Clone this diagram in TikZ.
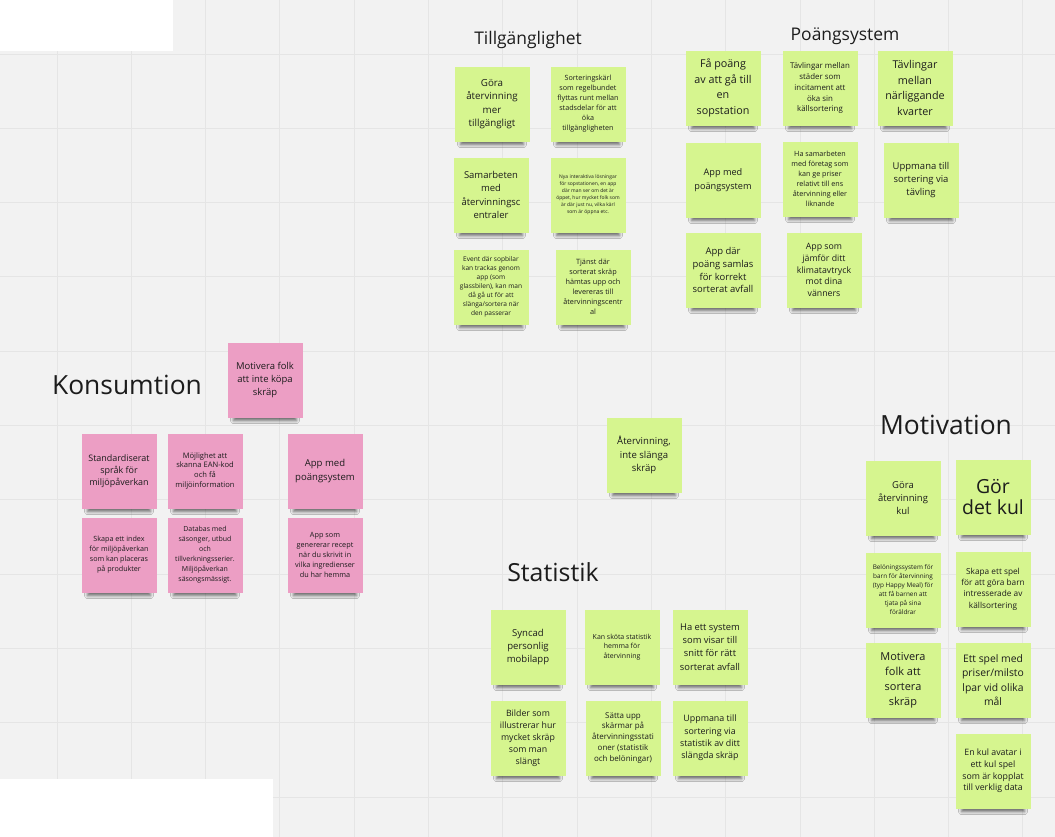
\documentclass[tikz,border=0pt]{standalone}
\usepackage{fontspec}
\setmainfont{Open Sans}
\usetikzlibrary{shadows.blur}
\definecolor{board}{RGB}{242,242,242}
\definecolor{gridline}{RGB}{229,229,229}
\definecolor{sgreen}{RGB}{214,245,143}
\definecolor{spink}{RGB}{236,158,196}
\definecolor{ink}{RGB}{28,28,28}
\newcommand{\nf}[2]{\fontsize{#1}{#2}\selectfont}

\begin{document}
\begin{tikzpicture}[
    x=1bp, y=-1bp,
    note/.style={minimum width=75bp, minimum height=75bp, inner sep=0pt, align=center, text=ink,
                 blur shadow={shadow xshift=0bp, shadow yshift=-11bp, shadow blur radius=3.5bp,
                              shadow opacity=55, shadow scale=0.84}},
    gnote/.style={note, fill=sgreen},
    pnote/.style={note, fill=spink},
    heading/.style={inner sep=0pt, text=ink},
  ]

  %% Board with grid
  \fill[board] (0,0) rectangle (1055,837);
  \useasboundingbox (0,0) rectangle (1055,837);
  \foreach \gx in {0,...,13}
    \draw[gridline, line width=1bp] ({57+74.3*\gx},0) -- ++(0,837);
  \foreach \gy in {0,...,10}
    \draw[gridline, line width=1bp] (0,{54+74.3*\gy}) -- ++(1055,0);
  \fill[white] (0,0) rectangle (173,51);
  \fill[white] (0,779) rectangle (273,837);

  %% Headings
  \node[heading, font=\nf{17.5}{20}] (htill) at (528,40) {Tillgänglighet};
  \node[heading, font=\nf{17.5}{20}] (hpoang) at (845,36) {Poängsystem};
  \node[heading, font=\nf{26.5}{30}] (hkons) at (127,385) {Konsumtion};
  \node[heading, font=\nf{25}{28}] (hstat) at (553,572) {Statistik};
  \node[heading, font=\nf{26.5}{30}] (hmotiv) at (946,425) {Motivation};

  %% Tillgänglighet
  \node[gnote, font=\nf{9.8}{13.3}] (tgora) at (492,104) {Göra\\återvinning\\mer\\tillgängligt};
  \node[gnote, font=\nf{7.2}{10}] (tkarl) at (588,104)
    {Sorteringskärl\\som regelbundet\\flyttas runt mellan\\stadsdelar för att\\öka\\tillgängligheten};
  \node[gnote, font=\nf{9.5}{13.3}] (tsamarb) at (491,195) {Samarbeten\\med\\återvinningsc\\entraler};
  \node[gnote, font=\nf{5}{7}] (tnya) at (588,195)
    {Nya interaktiva lösningar\\för sopstationen, en app\\där man ser om det är\\öppet, hur mycket folk som\\är där just nu, vilka kärl\\som är öppna etc.};
  \node[gnote, font=\nf{6.6}{9}] (tevent) at (491,287)
    {Event där sopbilar\\kan trackas genom\\app (som\\glassbilen), kan man\\då gå ut för att\\slänga/sortera när\\den passerar};
  \node[gnote, font=\nf{7.3}{10}] (ttjanst) at (593,287)
    {Tjänst där\\sorterat skräp\\hämtas upp och\\levereras till\\återvinningscentr\\al};

  %% Poängsystem
  \node[gnote, font=\nf{10.8}{15.5}] (pfa) at (723,88) {Få poäng\\av att gå till\\en\\sopstation};
  \node[gnote, font=\nf{7.9}{11}] (pstad) at (820,88)
    {Tävlingar mellan\\städer som\\incitament att\\öka sin\\källsortering};
  \node[gnote, font=\nf{10.8}{15.5}] (pkvart) at (915,88) {Tävlingar\\mellan\\närliggande\\kvarter};
  \node[gnote, font=\nf{9.2}{13.3}] (papp) at (723,180) {App med\\poängsystem};
  \node[gnote, font=\nf{7.2}{10}] (pforet) at (820,179)
    {Ha samarbeten\\med företag som\\kan ge priser\\relativt till ens\\återvinning eller\\liknande};
  \node[gnote, font=\nf{9.5}{12.8}] (pupp) at (921,180) {Uppmana till\\sortering via\\tävling};
  \node[gnote, font=\nf{9.5}{13}] (psaml) at (723,270) {App där\\poäng samlas\\för korrekt\\sorterat avfall};
  \node[gnote, font=\nf{8.8}{11.7}] (pjamf) at (824,270) {App som\\jämför ditt\\klimatavtryck\\mot dina\\vänners};

  %% Konsumtion
  \node[pnote, font=\nf{9.5}{13.3}] (kmotiv) at (265,380) {Motivera folk\\att inte köpa\\skräp};
  \node[pnote, font=\nf{9}{12.3}] (kstd) at (119,471) {Standardiserat\\språk för\\miljöpåverkan};
  \node[pnote, font=\nf{7.6}{10}] (kean) at (205,471) {Möjlighet att\\skanna EAN-kod\\och få\\miljöinformation};
  \node[pnote, font=\nf{9.6}{13.3}] (kapp) at (325,471) {App med\\poängsystem};
  \node[pnote, font=\nf{7.2}{10}] (kindex) at (119,555)
    {Skapa ett index\\för miljöpåverkan\\som kan placeras\\på produkter};
  \node[pnote, font=\nf{7}{10}] (kdata) at (205,555)
    {Databas med\\säsonger, utbud\\och\\tillverkningsserier.\\Miljöpåverkan\\säsongsmässigt.};
  \node[pnote, font=\nf{7.3}{10}] (krecept) at (325,555)
    {App som\\genererar recept\\när du skrivit in\\vilka ingredienser\\du har hemma};

  %% Center
  \node[gnote, font=\nf{9.6}{13.3}] (main) at (644,455) {Återvinning,\\inte slänga\\skräp};

  %% Statistik
  \node[gnote, font=\nf{9.6}{12.8}] (ssync) at (528,647) {Syncad\\personlig\\mobilapp};
  \node[gnote, font=\nf{7}{9.5}] (shemma) at (622,647) {Kan sköta statistik\\hemma för\\återvinning};
  \node[gnote, font=\nf{9.4}{13.3}] (ssys) at (710,647) {Ha ett system\\som visar till\\snitt för rätt\\sorterat avfall};
  \node[gnote, font=\nf{8.8}{12}] (sbild) at (528,738) {Bilder som\\illustrerar hur\\mycket skräp\\som man\\slängt};
  \node[gnote, font=\nf{8}{11}] (sskarm) at (623,738)
    {Sätta upp\\skärmar på\\återvinningsstati\\oner (statistik\\och belöningar)};
  \node[gnote, font=\nf{8.9}{12.3}] (supp) at (710,738) {Uppmana till\\sortering via\\statistik av ditt\\slängda skräp};

  %% Motivation
  \node[gnote, font=\nf{9.5}{13.3}] (mgora) at (903,498) {Göra\\återvinning\\kul};
  \node[gnote, font=\nf{19.5}{22}] (mkul) at (993,497) {Gör\\det kul};
  \node[gnote, font=\nf{6.4}{9}] (mbarn) at (903,590)
    {Belöningssystem för\\barn för återvinning\\(typ Happy Meal) för\\att få barnen att\\tjata på sina\\föräldrar};
  \node[gnote, font=\nf{8.3}{11.3}] (mspel) at (993,589)
    {Skapa ett spel\\för att göra barn\\intresserade av\\källsortering};
  \node[gnote, font=\nf{11}{15}] (msort) at (903,680) {Motivera\\folk att\\sortera\\skräp};
  \node[gnote, font=\nf{10.4}{14.5}] (mpris) at (993,680) {Ett spel med\\priser/milsto\\lpar vid olika\\mål};
  \node[gnote, font=\nf{8.8}{11.7}] (mavat) at (993,771)
    {En kul avatar i\\ett kul spel\\som är kopplat\\till verklig data};

\end{tikzpicture}
\end{document}
